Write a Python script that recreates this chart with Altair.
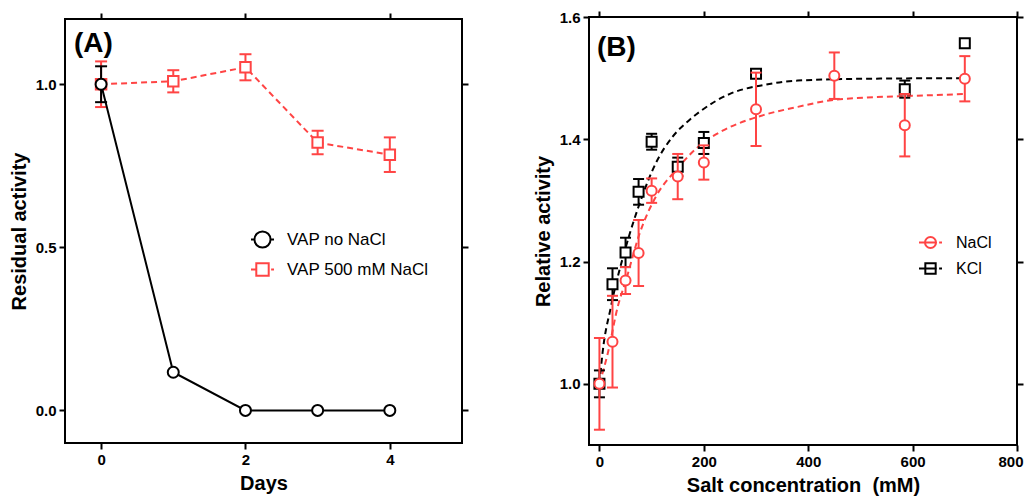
import altair as alt
import pandas as pd

FONT = "Liberation Sans"
RED = "#ff4444"

# ---------------- Panel A data ----------------
days = [0, 1, 2, 3, 4]
no_nacl = [1.0, 0.117, 0.0, 0.0, 0.0]
no_nacl_err = [0.055, 0.0, 0.0, 0.0, 0.0]
nacl500 = [1.0, 1.009, 1.052, 0.821, 0.784]
nacl500_err = [0.07, 0.034, 0.04, 0.036, 0.053]
series_a = ["VAP no NaCl", "VAP 500 mM NaCl"]

# ---------------- Panel B data ----------------
salt_nacl = [0, 25, 50, 75, 100, 150, 200, 300, 450, 585, 700]
nacl_act = [1.0, 1.069, 1.169, 1.214, 1.316, 1.339, 1.362, 1.449, 1.504, 1.423, 1.499]
nacl_err = [0.075, 0.075, 0.022, 0.054, 0.02, 0.037, 0.028, 0.06, 0.038, 0.051, 0.037]
salt_kcl = [0, 25, 50, 75, 100, 150, 200, 300, 585, 700]
kcl_act = [1.0, 1.163, 1.215, 1.314, 1.396, 1.355, 1.394, 1.507, 1.482, 1.557]
kcl_err = [0.022, 0.026, 0.024, 0.021, 0.013, 0.015, 0.018, 0.0, 0.014, 0.0]
# fitted curves
fit_kcl_x = [0, 6, 22, 51, 77, 108, 140, 173, 192, 252, 316, 380, 508, 700]
fit_kcl_y = [1.0, 1.051, 1.126, 1.225, 1.295, 1.361, 1.404, 1.432, 1.445, 1.475, 1.489, 1.496, 1.499, 1.5]
fit_nacl_x = [0, 16, 35, 51, 77, 108, 147, 198, 236, 316, 380, 444, 508, 600, 700]
fit_nacl_y = [1.0, 1.05, 1.126, 1.17, 1.246, 1.306, 1.35, 1.394, 1.414, 1.44, 1.453, 1.464, 1.468, 1.471, 1.474]
series_b = ["NaCl", "KCl"]


def err_df(x, y, e, xname):
    df = pd.DataFrame({xname: x, "val": y, "err": e})
    df["lo"] = df["val"] - df["err"]
    df["hi"] = df["val"] + df["err"]
    return df


# ================= Panel A =================
xsA = alt.Scale(domain=[-0.5, 5], nice=False, zero=False)
ysA = alt.Scale(domain=[-0.1, 1.2], nice=False, zero=False)

dA_black = err_df(days, no_nacl, no_nacl_err, "day")
dA_red = err_df(days, nacl500, nacl500_err, "day")
dA_black_e = dA_black[dA_black["err"] > 0]
dA_red_e = dA_red[dA_red["err"] > 0]


def XA(axis=None):
    return alt.X("day:Q", scale=xsA, axis=axis)


def YA(field="val", axis=None):
    return alt.Y(f"{field}:Q", scale=ysA, axis=axis)


def errs_a(df, color):
    rule = alt.Chart(df).mark_rule(color=color, strokeWidth=2).encode(
        x=XA(), y=YA("lo"), y2="hi:Q")
    t_lo = alt.Chart(df).mark_tick(color=color, thickness=2, size=12, orient="horizontal", opacity=1).encode(
        x=XA(), y=YA("lo"))
    t_hi = alt.Chart(df).mark_tick(color=color, thickness=2, size=12, orient="horizontal", opacity=1).encode(
        x=XA(), y=YA("hi"))
    return [rule, t_lo, t_hi]


red_line_a = alt.Chart(dA_red).mark_line(color=RED, strokeWidth=2, strokeDash=[6, 4]).encode(
    x=XA(alt.Axis(values=[0, 2, 4], title="Days", orient="bottom")),
    y=YA("val", alt.Axis(values=[0, 0.5, 1.0], format=".1f", title="Residual activity", orient="left")),
)
red_pts_a = alt.Chart(dA_red).mark_point(shape="square", filled=True, fill="white", stroke=RED,
                                         strokeWidth=2, size=110, opacity=1).encode(x=XA(), y=YA())
black_line_a = alt.Chart(dA_black).mark_line(color="black", strokeWidth=2).encode(x=XA(), y=YA())
black_pts_a = alt.Chart(dA_black).mark_point(shape="circle", filled=True, fill="white", stroke="black",
                                             strokeWidth=2, size=121, opacity=1).encode(x=XA(), y=YA())
mirror_a = alt.Chart(dA_red).mark_point(opacity=0).encode(
    x=XA(alt.Axis(values=[0, 2, 4], orient="top", labels=False, title=None)),
    y=YA("val", alt.Axis(values=[0, 0.5, 1.0], orient="right", labels=False, title=None)),
)

pathA = [
    "M-1,0L-0.7,0M0.7,0L1,0M0.7,0A0.7,0.7,0,1,1,-0.7,0A0.7,0.7,0,1,1,0.7,0Z",
    "M-1,0L-0.54,0M0.75,0L1,0M-0.54,-0.54L0.54,-0.54L0.54,0.54L-0.54,0.54Z",
]
legA = alt.Legend(orient="none", legendX=185, legendY=208, title=None, labelFont=FONT,
                  labelFontSize=17, labelColor="black", symbolSize=529, symbolStrokeWidth=2,
                  symbolOpacity=1, rowPadding=5, labelOffset=12, padding=0)
leg_layer_a = alt.Chart(pd.DataFrame({"series": series_a, "day": [0, 0], "val": [0, 0]})).transform_filter(
    "false").mark_point(filled=False, strokeWidth=2, size=529, opacity=1).encode(
    x=XA(), y=YA(),
    color=alt.Color("series:N", scale=alt.Scale(domain=series_a, range=["black", RED]), legend=legA),
    shape=alt.Shape("series:N", scale=alt.Scale(domain=series_a, range=pathA), legend=legA),
)
label_a = alt.Chart(pd.DataFrame({"t": ["(A)"]})).mark_text(
    font=FONT, fontSize=28, fontWeight="bold", align="left", baseline="alphabetic", color="black"
).encode(text="t:N", x=alt.value(9), y=alt.value(33))

panelA = alt.layer(
    red_line_a, *errs_a(dA_red_e, RED), red_pts_a,
    *errs_a(dA_black_e, "black"), black_line_a, black_pts_a,
    mirror_a, leg_layer_a, label_a,
).resolve_axis(x="independent", y="independent").properties(width=397, height=424)

# ================= Panel B =================
xsB = alt.Scale(domain=[-20, 800], nice=False, zero=False)
ysB = alt.Scale(domain=[0.9, 1.6], nice=False, zero=False)

dB_nacl = err_df(salt_nacl, nacl_act, nacl_err, "salt")
dB_kcl = err_df(salt_kcl, kcl_act, kcl_err, "salt")
dB_nacl_e = dB_nacl[dB_nacl["err"] > 0]
dB_kcl_e = dB_kcl[dB_kcl["err"] > 0]
fit_k = pd.DataFrame({"salt": fit_kcl_x, "val": fit_kcl_y})
fit_n = pd.DataFrame({"salt": fit_nacl_x, "val": fit_nacl_y})


def XB(axis=None):
    return alt.X("salt:Q", scale=xsB, axis=axis)


def YB(field="val", axis=None):
    return alt.Y(f"{field}:Q", scale=ysB, axis=axis)


def errs_b(df, color):
    rule = alt.Chart(df).mark_rule(color=color, strokeWidth=2).encode(
        x=XB(), y=YB("lo"), y2="hi:Q")
    t_lo = alt.Chart(df).mark_tick(color=color, thickness=2, size=11, orient="horizontal", opacity=1).encode(
        x=XB(), y=YB("lo"))
    t_hi = alt.Chart(df).mark_tick(color=color, thickness=2, size=11, orient="horizontal", opacity=1).encode(
        x=XB(), y=YB("hi"))
    return [rule, t_lo, t_hi]


fit_k_line = alt.Chart(fit_k).mark_line(color="black", strokeWidth=2, strokeDash=[6, 4],
                                        interpolate="monotone").encode(
    x=XB(alt.Axis(values=[0, 200, 400, 600, 800], title="Salt concentration\u00a0\u00a0(mM)",
                  orient="bottom", labelFlush=True, labelFlushOffset=6)),
    y=YB("val", alt.Axis(values=[1.0, 1.2, 1.4, 1.6], format=".1f", title="Relative activity", orient="left")),
)
fit_n_line = alt.Chart(fit_n).mark_line(color=RED, strokeWidth=2, strokeDash=[6, 4],
                                        interpolate="monotone").encode(x=XB(), y=YB())
kcl_pts = alt.Chart(dB_kcl).mark_point(shape="square", filled=True, fill="white", stroke="black",
                                       strokeWidth=2, size=100, opacity=1).encode(x=XB(), y=YB())
nacl_pts = alt.Chart(dB_nacl).mark_point(shape="circle", filled=True, fill="white", stroke=RED,
                                         strokeWidth=2, size=100, opacity=1).encode(x=XB(), y=YB())
mirror_b = alt.Chart(dB_nacl).mark_point(opacity=0).encode(
    x=XB(alt.Axis(values=[0, 200, 400, 600, 800], orient="top", labels=False, title=None)),
    y=YB("val", alt.Axis(values=[1.0, 1.2, 1.4, 1.6], orient="right", labels=False, title=None)),
)
pathB = [
    "M-1,0L0.55,0M0.75,0L1,0M0.48,0A0.48,0.48,0,1,1,-0.48,0A0.48,0.48,0,1,1,0.48,0Z",
    "M-1,0L0.55,0M0.75,0L1,0M-0.45,-0.45L0.45,-0.45L0.45,0.45L-0.45,0.45Z",
]
legB = alt.Legend(orient="none", legendX=329, legendY=213, title=None, labelFont=FONT,
                  labelFontSize=16, labelColor="black", symbolSize=529, symbolStrokeWidth=2,
                  symbolOpacity=1, rowPadding=3, labelOffset=13, padding=0)
leg_layer_b = alt.Chart(pd.DataFrame({"series": series_b, "salt": [0, 0], "val": [1, 1]})).transform_filter(
    "false").mark_point(filled=False, strokeWidth=2, size=529, opacity=1).encode(
    x=XB(), y=YB(),
    color=alt.Color("series:N", scale=alt.Scale(domain=series_b, range=[RED, "black"]), legend=legB),
    shape=alt.Shape("series:N", scale=alt.Scale(domain=series_b, range=pathB), legend=legB),
)
label_b = alt.Chart(pd.DataFrame({"t": ["(B)"]})).mark_text(
    font=FONT, fontSize=28, fontWeight="bold", align="left", baseline="alphabetic", color="black"
).encode(text="t:N", x=alt.value(8), y=alt.value(39))

panelB = alt.layer(
    fit_k_line, fit_n_line,
    *errs_b(dB_kcl_e, "black"), kcl_pts,
    *errs_b(dB_nacl_e, RED), nacl_pts,
    mirror_b, leg_layer_b, label_b,
).resolve_axis(x="independent", y="independent").properties(width=428, height=428)

chart = alt.hconcat(panelA, panelB, spacing=62, center=True).resolve_scale(
    color="independent", shape="independent"
).resolve_legend(color="independent", shape="independent").properties(
    padding={"left": 0, "top": 1, "right": 0, "bottom": 0}
).configure_view(stroke="black", strokeWidth=2).configure_axis(
    grid=False, domain=False, tickSize=6, tickWidth=2, tickColor="black",
    labelFont=FONT, labelFontSize=15, labelFontWeight="bold", labelColor="black", labelPadding=3,
    labelFlush=False, labelOverlap=False,
    titleFont=FONT, titleFontSize=20, titleFontWeight="bold", titleColor="black", titlePadding=6,
)

chart.save("out.html", embed_options={"renderer": "svg", "actions": False})
